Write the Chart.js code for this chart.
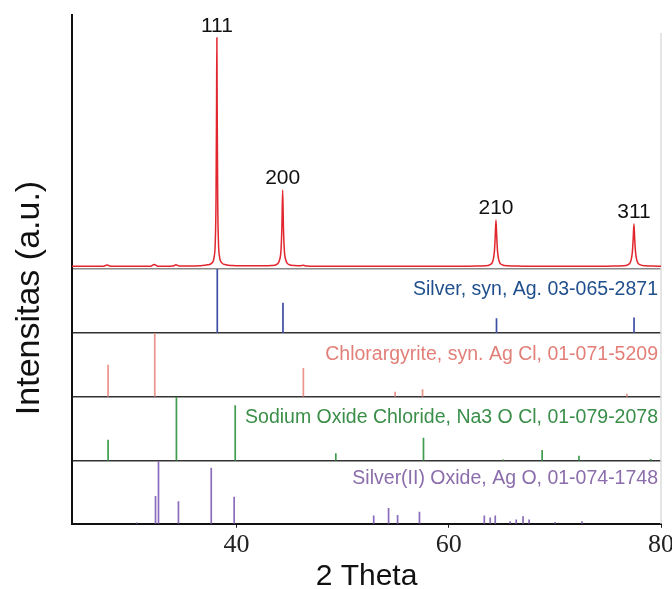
<!DOCTYPE html>
<html>
<head>
<meta charset="utf-8">
<script src="https://cdn.jsdelivr.net/npm/chart.js@4.4.1/dist/chart.umd.min.js"></script>
<style>
    html, body { margin: 0; padding: 0; background: #fff; }
    #wrap { width: 672px; height: 589px; position: relative; }
</style>
</head>
<body>
<div id="wrap"><canvas id="xrdChart"></canvas></div>
<script>
// Measured XRD pattern (2 theta, intensity)
const xrdTheta = [24.5, 25.5, 26.5, 27.4, 27.8, 28.2, 29.0, 30.0, 31.0, 31.9, 32.25, 32.6, 33.3, 34.0, 34.3, 34.6,
    35.5, 36.5, 37.3, 37.7, 37.9, 38.0, 38.07, 38.12, 38.15, 38.18, 38.23, 38.3, 38.4, 38.6, 39.0, 39.6,
    40.5, 41.5, 42.5, 43.3, 43.8, 44.05, 44.2, 44.28, 44.35, 44.42, 44.5, 44.65, 44.9, 45.5, 46.0, 46.3, 46.6,
    47.5, 49.0, 51.0, 53.0, 55.0, 57.0, 59.0, 61.0, 62.5, 63.4, 63.9, 64.15, 64.3, 64.38, 64.45, 64.52, 64.6,
    64.75, 65.0, 65.6, 66.5, 68.0, 70.0, 72.0, 74.0, 75.5, 76.4, 76.9, 77.15, 77.3, 77.38, 77.45, 77.52, 77.6,
    77.75, 78.0, 78.6, 79.3, 80.0];
const xrdCounts = [10, 10, 10, 10, 15, 10, 10, 10, 10, 10, 17, 10, 10, 11, 16, 11,
    11, 12, 16, 24, 48, 105, 270, 640, 910, 640, 270, 105, 48, 25, 16, 13,
    12, 12, 12, 13, 18, 34, 78, 170, 311, 170, 78, 34, 18, 13, 12, 14, 11,
    10, 10, 10, 10, 10, 10, 10, 10, 11, 12, 17, 30, 68, 128, 193, 128, 68,
    30, 17, 12, 11, 10, 10, 10, 10, 11, 12, 17, 30, 66, 120, 177, 120, 66,
    30, 17, 12, 11, 10];

// hkl labels of the silver peaks
const peakLabels = ['111', '200', '210', '311'];
const peakTheta = [38.15, 44.35, 64.45, 77.45];
const peakCounts = [910, 311, 193, 177];

// Reference patterns (position, relative intensity %)
const silverPos = [38.19, 44.38, 64.5, 77.46];
const silverInt = [100, 47, 23, 24];

const chlorPos = [27.9, 32.3, 46.3, 54.95, 57.53, 76.78];
const chlorInt = [50, 100, 45, 8, 12, 5];

const sodiumPos = [27.9, 34.34, 39.88, 49.36, 57.62, 65.14, 68.8, 72.27, 79.03];
const sodiumInt = [33, 100, 87, 12, 36, 2, 17, 8, 3];

const agoPos = [30.6, 32.37, 32.65, 34.53, 37.62, 39.78, 52.93, 54.33, 55.18, 57.24, 63.35, 63.91, 64.38,
    65.79, 66.36, 67.0, 67.57, 70.02, 72.55];
const agoInt = [2, 44, 100, 36, 89, 43, 13, 25, 14, 19, 13, 10, 13, 4, 7, 12, 7, 3, 4];

const panelNames = ['Silver, syn, Ag. 03-065-2871', 'Chlorargyrite, syn. Ag Cl, 01-071-5209',
    'Sodium Oxide Chloride, Na3 O Cl, 01-079-2078', 'Silver(II) Oxide, Ag O, 01-074-1748'];
const xTicks = [40, 60, 80];

const panelIds = ['ySilver', 'yChlor', 'ySodium', 'yAgO'];
const stickColors = ['#3e4fa6', '#eb938d', '#3f9c4d', '#8a6cbc'];
const textColors = ['#1f4f8c', '#e27f78', '#3a8e49', '#8b6dab'];

function sticks(pos, hts) {
    const pts = [];
    pos.forEach((p, i) => {
        pts.push({x: p, y: 0}, {x: p, y: hts[i]}, {x: p, y: null});
    });
    return pts;
}

function stickSet(pos, hts, i) {
    return {
        label: panelNames[i],
        data: sticks(pos, hts),
        yAxisID: panelIds[i],
        borderColor: stickColors[i],
        borderWidth: 1.7,
        pointRadius: 0,
        spanGaps: false,
        tension: 0
    };
}

function panelAxis(weight, stackWeight, max, sepColor) {
    return {
        type: 'linear',
        position: 'left',
        stack: 'xrd',
        stackWeight: stackWeight,
        weight: weight,
        min: 0,
        max: max,
        ticks: { display: false },
        grid: {
            drawTicks: false,
            lineWidth: 1.6,
            color: c => (c.tick && c.tick.value === 0) ? sepColor : 'rgba(0,0,0,0)'
        },
        border: { display: true, color: '#111', width: 2 }
    };
}

// texts drawn over the plot
const overlay = {
    id: 'overlay',
    beforeDatasetsDraw(chart) {
        const ctx = chart.ctx, area = chart.chartArea;
        ctx.save();
        ctx.strokeStyle = '#dcdcdc';
        ctx.lineWidth = 1.5;
        ctx.beginPath();
        ctx.moveTo(area.right, 33);
        ctx.lineTo(area.right, area.bottom);
        ctx.stroke();
        ctx.restore();
    },
    afterDatasetsDraw(chart) {
        const ctx = chart.ctx, area = chart.chartArea, x = chart.scales.x;
        const yx = chart.scales.yXrd;
        ctx.save();
        ctx.font = '21px "Liberation Sans", Arial, sans-serif';
        ctx.fillStyle = '#111';
        ctx.textAlign = 'center';
        ctx.textBaseline = 'alphabetic';
        peakLabels.forEach((t, i) => {
            ctx.fillText(t, x.getPixelForValue(peakTheta[i]), yx.getPixelForValue(peakCounts[i]) - 6);
        });

        ctx.font = '19.5px "Liberation Sans", Arial, sans-serif';
        ctx.textAlign = 'right';
        ctx.textBaseline = 'middle';
        const offs = [21, 22, 21, 18];
        panelIds.forEach((id, i) => {
            ctx.fillStyle = textColors[i];
            ctx.fillText(panelNames[i], area.right - 3, chart.scales[id].top + offs[i]);
        });

        ctx.translate(30, 298);
        ctx.rotate(-Math.PI / 2);
        ctx.font = '34px "Liberation Sans", Arial, sans-serif';
        ctx.textAlign = 'center';
        ctx.fillStyle = '#111';
        ctx.fillText('Intensitas (a.u.)', 0, 0);
        ctx.restore();
    }
};

const ctx = document.getElementById('xrdChart').getContext('2d');
new Chart(ctx, {
    type: 'line',
    data: {
        datasets: [
            {
                label: 'XRD',
                data: xrdTheta.map((t, i) => ({x: t, y: xrdCounts[i]})),
                yAxisID: 'yXrd',
                borderColor: '#e1262d',
                borderWidth: 1.5,
                pointRadius: 0,
                cubicInterpolationMode: 'monotone'
            },
            stickSet(silverPos, silverInt, 0),
            stickSet(chlorPos, chlorInt, 1),
            stickSet(sodiumPos, sodiumInt, 2),
            stickSet(agoPos, agoInt, 3)
        ]
    },
    options: {
        responsive: true,
        maintainAspectRatio: false,
        animation: false,
        devicePixelRatio: 1,
        layout: { padding: { left: 72, top: 15, right: 11, bottom: 0 } },
        plugins: {
            legend: { display: false },
            tooltip: { enabled: false }
        },
        scales: {
            x: {
                type: 'linear',
                min: 24.5,
                max: 80,
                afterBuildTicks: s => { s.ticks = xTicks.map(v => ({value: v})); },
                afterFit: s => { s.paddingRight = 0; },
                grid: { drawOnChartArea: false, drawTicks: true, tickLength: 4, color: '#222' },
                border: { color: '#111', width: 2 },
                ticks: {
                    font: { family: 'Liberation Serif', size: 26 },
                    color: '#222',
                    padding: 2,
                    maxRotation: 0
                },
                title: {
                    display: true,
                    text: '2 Theta',
                    color: '#111',
                    font: { family: 'Liberation Sans', size: 30, lineHeight: 0.8 },
                    padding: { top: 2, bottom: 0 }
                }
            },
            yXrd: panelAxis(5, 254, 1000, '#8a8a8a'),
            ySilver: panelAxis(4, 64, 100, '#333'),
            yChlor: panelAxis(3, 64, 100, '#333'),
            ySodium: panelAxis(2, 64, 100, '#333'),
            yAgO: panelAxis(1, 63, 100, '#333')
        }
    },
    plugins: [overlay]
});
</script>
</body>
</html>
